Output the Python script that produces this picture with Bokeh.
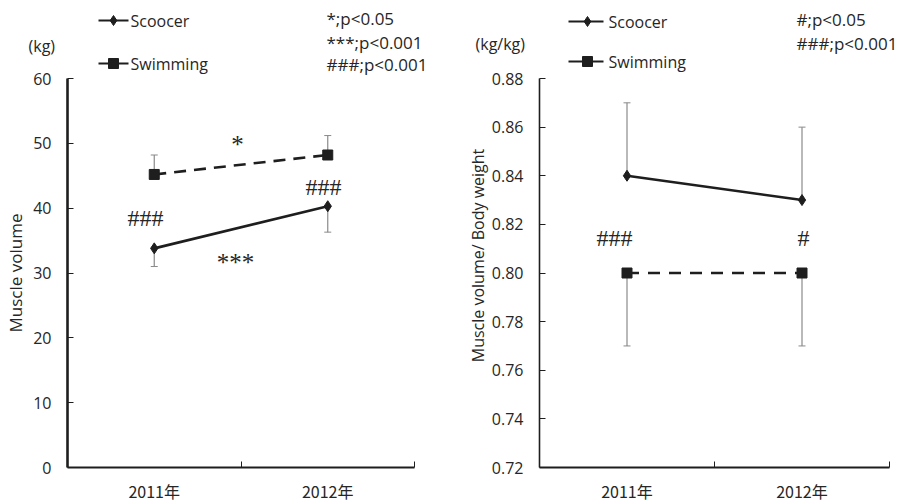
import math
from bokeh.plotting import figure
from bokeh.models import ColumnDataSource, Whisker, TeeHead, Label, FixedTicker, Range1d
from bokeh.layouts import row
from bokeh.embed import file_html
from bokeh.resources import INLINE

# ---------------- data ----------------
years = ["2011年", "2012年"]
series_names = ["Scoocer", "Swimming"]

scoocer_kg = [33.8, 40.3]
scoocer_kg_sd = [2.8, 4.0]
swimming_kg = [45.2, 48.2]
swimming_kg_sd = [3.0, 3.0]

scoocer_ratio = [0.84, 0.83]
scoocer_ratio_sd = [0.03, 0.03]
swimming_ratio = [0.80, 0.80]
swimming_ratio_sd = [0.03, 0.03]

left_ticks = [0, 10, 20, 30, 40, 50, 60]
left_tick_labels = ["0", "10", "20", "30", "40", "50", "60"]
right_ticks = [0.72, 0.74, 0.76, 0.78, 0.80, 0.82, 0.84, 0.86, 0.88]
right_tick_labels = ["0.72", "0.74", "0.76", "0.78", "0.80", "0.82", "0.84", "0.86", "0.88"]

left_notes = ["*;p<0.05", "***;p<0.001", "###;p<0.001"]
right_notes = ["#;p<0.05", "###;p<0.001"]

# ---------------- style / layout ----------------
FONT = "Open Sans"
CJK = "Noto Sans CJK JP"
SERIF = "Liberation Serif"
INK = "#1e1e1e"
TXT = "#262626"
GRAY = "#8a8a8a"
H = 504
PAGE = 0             # the page itself has no margin
AXIS_Y = 467         # pixel row of the x axis
TOP_Y = 78           # pixel row of the top y tick


class Panel:
    """Whole canvas is the plotting frame; axes are pinned inside it."""

    def __init__(self, width, canvas_left, axis_x, axis_x_end, ticks, tick_labels,
                 y_label, y_axis_width):
        self.ax0 = axis_x
        self.sx = (axis_x_end - axis_x) / len(years)
        self.ylo = ticks[0]
        self.sy = (TOP_Y - AXIS_Y) / (ticks[-1] - ticks[0])  # negative: px per unit
        x_start = (canvas_left - axis_x) / self.sx
        x_end = (canvas_left + width - axis_x) / self.sx
        y_start = self.fy(PAGE + H)
        y_end = self.fy(PAGE)
        p = figure(width=width, height=H, output_backend="svg", toolbar_location=None,
                   x_range=Range1d(x_start, x_end), y_range=Range1d(y_start, y_end),
                   min_border=0)
        p.outline_line_color = None
        p.xgrid.visible = False
        p.ygrid.visible = False
        p.background_fill_color = "white"
        p.border_fill_color = "white"

        self.xs = [i + 0.5 for i in range(len(years))]
        xa = p.xaxis[0]
        xa.fixed_location = ticks[0]
        xa.bounds = (0, len(years))
        xa.ticker = FixedTicker(ticks=self.xs,
                                minor_ticks=[float(i + 1) for i in range(len(years))])
        xa.major_label_overrides = {x: lab for x, lab in zip(self.xs, years)}
        xa.major_tick_in = 0
        xa.major_tick_out = 0
        xa.minor_tick_in = 6
        xa.minor_tick_out = 0
        xa.minor_tick_line_color = INK
        xa.minor_tick_line_width = 1
        xa.axis_line_color = INK
        xa.axis_line_width = 1.8
        xa.major_label_text_font = CJK
        xa.major_label_text_font_size = "16px"
        xa.major_label_text_color = TXT
        xa.major_label_standoff = 11

        ya = p.yaxis[0]
        ya.fixed_location = 0
        ya.ticker = FixedTicker(ticks=ticks)
        ya.major_label_overrides = {t: lab for t, lab in zip(ticks, tick_labels)}
        ya.bounds = (ticks[0], ticks[-1])
        ya.major_tick_in = 6
        ya.major_tick_out = 0
        ya.major_tick_line_color = INK
        ya.minor_tick_line_color = None
        ya.axis_line_color = INK
        ya.axis_line_width = y_axis_width
        ya.major_label_text_font = FONT
        ya.major_label_text_font_size = "16px"
        ya.major_label_text_color = TXT
        ya.major_label_standoff = 16
        if y_label is not None:
            ya.axis_label = y_label
            ya.axis_label_text_font = FONT
            ya.axis_label_text_font_style = "normal"
            ya.axis_label_text_font_size = "17px"
            ya.axis_label_text_color = TXT
            ya.axis_label_standoff = 3
        self.p = p

    def fx(self, px):
        return (px - self.ax0) / self.sx

    def fy(self, py):
        return self.ylo + (py - AXIS_Y) / self.sy

    def series(self, vals, sds, marker, dash, down):
        lo = [v - s for v, s in zip(vals, sds)] if down else list(vals)
        hi = list(vals) if down else [v + s for v, s in zip(vals, sds)]
        src = ColumnDataSource(dict(x=self.xs, y=vals, lo=lo, hi=hi))
        head = TeeHead(size=7, line_color=GRAY, line_width=1)
        w = Whisker(base="x", lower="lo", upper="hi", source=src, dimension="height",
                    line_color=GRAY, line_width=1.2,
                    lower_head=head if down else None,
                    upper_head=None if down else head)
        self.p.add_layout(w)
        self.p.line("x", "y", source=src, line_color=INK, line_width=2.6, line_dash=dash)
        size = 11 if marker == "diamond" else 10
        self.p.scatter("x", "y", source=src, marker=marker, size=size,
                       fill_color=INK, line_color=INK)

    def label(self, px, py, text, font=FONT, size="16px", align="left", angle=0.0):
        self.p.add_layout(Label(x=self.fx(px), y=self.fy(py), text=text,
                                text_font=font, text_font_size=size, text_color=TXT,
                                text_align=align, text_baseline="middle", angle=angle))

    def legend(self, x0, x1, xm, xt, rows):
        for name, marker, py in zip(series_names, ["diamond", "square"], rows):
            self.p.segment(x0=[self.fx(x0)], y0=[self.fy(py)], x1=[self.fx(x1)],
                           y1=[self.fy(py)], line_color=INK, line_width=2.2)
            self.p.scatter(x=[self.fx(xm)], y=[self.fy(py)], marker=marker, size=10,
                           fill_color=INK, line_color=INK)
            self.label(xt, py, name)


# ---------------- left panel ----------------
L = Panel(453, 0, 67, 414, left_ticks, left_tick_labels, "Muscle volume", 2.6)
L.series(scoocer_kg, scoocer_kg_sd, "diamond", "solid", True)
L.series(swimming_kg, swimming_kg_sd, "square", "12 8", False)
L.legend(98, 128, 113, 130, [20, 63])
for note, py in zip(left_notes, [18, 42, 64]):
    L.label(326, py, note, size="17px")
L.label(28, 45, "(kg)")
L.label(237, 144, "*", SERIF, "25px", "center")
L.label(145, 217, "###", SERIF, "24px", "center")
L.label(323, 186, "###", SERIF, "24px", "center")
L.label(235, 262, "***", SERIF, "25px", "center")

# ---------------- right panel ----------------
R = Panel(447, 453, 539, 889, right_ticks, right_tick_labels, None, 1.6)
R.series(scoocer_ratio, scoocer_ratio_sd, "diamond", "solid", False)
R.series(swimming_ratio, swimming_ratio_sd, "square", "12 9", True)
R.legend(568, 603, 587, 608, [21, 61])
for note, py in zip(right_notes, [19, 43]):
    R.label(796, py, note, size="17px")
R.label(475, 43, "(kg/kg)")
R.label(477, 255, "Muscle volume/ Body weight", size="16px", align="center",
        angle=math.pi / 2)
R.label(614, 237, "###", SERIF, "24px", "center")
R.label(803, 237, "#", SERIF, "24px", "center")

layout = row(L.p, R.p)
open("out.html", "w").write(file_html(layout, INLINE))
